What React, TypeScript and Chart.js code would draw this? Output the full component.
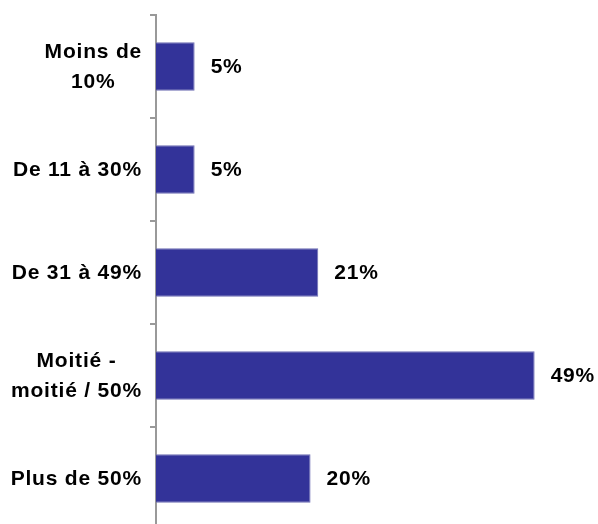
import React, { useEffect, useRef } from "react";
import { Chart, registerables } from "chart.js";

Chart.register(...registerables);

const categories: string[][] = [
  ["Moins de", "10%"],
  ["De 11 à 30%"],
  ["De 31 à 49%"],
  ["Moitié -", "moitié / 50%"],
  ["Plus de 50%"],
];
const values: number[] = [5, 5, 21, 49, 20];
const valueLabels: string[] = ["5%", "5%", "21%", "49%", "20%"];

const FONT = "bold 21px 'Liberation Sans', Arial, sans-serif";
const SPACING = "0.8px";

const valueLabelPlugin = {
  id: "valueLabels",
  afterDatasetsDraw(chart: any) {
    const ctx = chart.ctx;
    const meta = chart.getDatasetMeta(0);
    ctx.save();
    ctx.font = FONT;
    (ctx as any).letterSpacing = SPACING;
    ctx.fillStyle = "#000000";
    ctx.textAlign = "left";
    ctx.textBaseline = "middle";
    meta.data.forEach((bar: any, i: number) => {
      ctx.fillText(valueLabels[i], bar.x + 16, bar.y + 1);
    });
    ctx.restore();
  },
};

const categoryLabelPlugin = {
  id: "categoryLabels",
  afterDraw(chart: any) {
    const ctx = chart.ctx;
    const scale = chart.scales.y;
    const lineH = 30;
    const rightX = scale.right - 14;
    ctx.save();
    ctx.font = FONT;
    (ctx as any).letterSpacing = SPACING;
    ctx.fillStyle = "#000000";
    ctx.textAlign = "center";
    ctx.textBaseline = "middle";
    categories.forEach((lines, i) => {
      const cy = scale.getPixelForTick(i) + 1;
      const w = Math.max(...lines.map((l) => ctx.measureText(l).width));
      const cx = rightX - w / 2;
      const startY = cy - ((lines.length - 1) * lineH) / 2;
      lines.forEach((l, j) => ctx.fillText(l, cx, startY + j * lineH));
    });
    ctx.restore();
  },
};

export default function App() {
  const ref = useRef<HTMLCanvasElement | null>(null);

  useEffect(() => {
    document.body.style.margin = "0";
    document.body.style.overflow = "hidden";
    const canvas = ref.current;
    if (!canvas) return;
    const chart = new Chart(canvas, {
      type: "bar",
      data: {
        labels: categories.map((c) => c.join(" ")),
        datasets: [
          {
            data: values,
            backgroundColor: "#333399",
            borderColor: "#6f6fb3",
            borderWidth: 1,
            barPercentage: 0.47,
            categoryPercentage: 1,
          },
        ],
      },
      options: {
        indexAxis: "y",
        animation: false,
        responsive: false,
        devicePixelRatio: 1,
        layout: { padding: { top: 15, bottom: 10, left: 0, right: 17 } },
        plugins: {
          legend: { display: false },
          tooltip: { enabled: false },
        },
        scales: {
          x: { display: false, min: 0, max: 55 },
          y: {
            afterFit: (s: any) => {
              s.width = 156;
            },
            ticks: { display: false },
            grid: {
              display: true,
              drawOnChartArea: false,
              drawTicks: true,
              tickLength: 6,
              color: "#999999",
              lineWidth: 2,
              offset: true,
            },
            border: { display: true, color: "#999999", width: 2 },
          },
        },
      },
      plugins: [valueLabelPlugin, categoryLabelPlugin],
    } as any);
    return () => chart.destroy();
  }, []);

  return (
    <div style={{ width: 598, height: 524, overflow: "hidden" }}>
      <canvas ref={ref} width={598} height={540} style={{ display: "block", width: 598, height: 540 }} />
    </div>
  );
}
